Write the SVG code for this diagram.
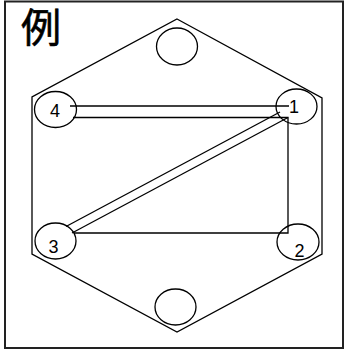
<svg xmlns="http://www.w3.org/2000/svg" width="348" height="351" viewBox="0 0 348 351">
<style>
.ln{fill:none;stroke:#000;stroke-width:1.3}
.nd{fill:#fff;stroke:#000;stroke-width:1.3}
.lb{font-family:"Liberation Sans",Arial,sans-serif;font-size:18px;fill:#000;text-anchor:middle}
</style>
<rect x="5" y="1.5" width="338" height="346.5" fill="#fff" stroke="#222" stroke-width="2"/>
<text x="21" y="42" font-family="'Noto Sans CJK JP','Noto Sans CJK SC',sans-serif" font-size="40" fill="#000" stroke="#000" stroke-width="0.6">例</text>
<polygon class="ln" points="177,19 322,98 322,254 177,332 32,254 32,97"/>
<g id="n-top"><ellipse class="nd" cx="177" cy="46.5" rx="20.5" ry="18.5"/></g>
<g id="n-bottom"><ellipse class="nd" cx="175.5" cy="307" rx="20.5" ry="18"/></g>
<g id="n4"><ellipse class="nd" cx="55.5" cy="109.5" rx="21" ry="18"/><text class="lb" x="55" y="117">4</text></g>
<g id="n1"><ellipse class="nd" cx="296.5" cy="106.5" rx="20.5" ry="17.5"/><text class="lb" x="294" y="113">1</text></g>
<g id="n3"><ellipse class="nd" cx="55.5" cy="241" rx="20.5" ry="18"/><text class="lb" x="53.5" y="253">3</text></g>
<g id="n2"><ellipse class="nd" cx="298" cy="242" rx="21" ry="18"/><text class="lb" x="299.5" y="257">2</text></g>
<g id="connectors">
<line class="ln" x1="70" y1="106" x2="289" y2="106"/>
<polyline class="ln" points="73,117.5 288,117.5 288,233 74,233"/>
<line class="ln" x1="66" y1="226.5" x2="280" y2="112"/>
<line class="ln" x1="72" y1="233" x2="288" y2="117.5"/>
</g>
</svg>
